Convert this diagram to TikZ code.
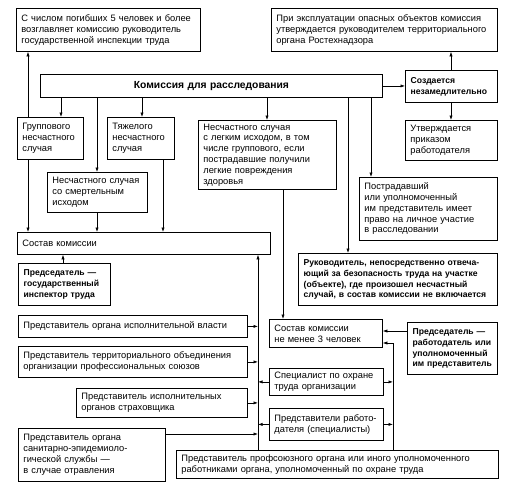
\documentclass[tikz,border=0pt]{standalone}
\usepackage{fontspec}
\setmainfont{Liberation Sans}
\usetikzlibrary{arrows.meta,calc}
\newcommand\myfs{\fontsize{9.3}{10.8}\selectfont}
\newcommand\mybf{\bfseries\fontsize{8.6}{10.8}\selectfont}
\newcommand\mybx[7][box]{%
  \pgfmathsetmacro\bw{#5-#3}\pgfmathsetmacro\bh{#6-#4}\pgfmathsetmacro\tw{#5-#3-10}%
  \node[#1, minimum width=\bw pt, minimum height=\bh pt, text width=\tw pt] (#2) at (#3,#4) {#7};}
\begin{document}
\begin{tikzpicture}[x=1pt,y=-1pt,
  box/.style={draw, line width=0.8pt, inner xsep=5pt, inner ysep=0pt, align=left, anchor=north west, font=\myfs},
  bbox/.style={box, line width=1.3pt, font=\mybf},
  mbox/.style={box, line width=0.9pt, align=center, font=\bfseries\fontsize{10.3}{11}\selectfont},
  arr/.style={-{Latex[length=4.5pt,width=3.2pt]}, line width=0.6pt},
  ln/.style={line width=0.6pt}]
\useasboundingbox (0,0) rectangle (510,488);

\mybx{tl}{16}{8}{200}{51}{С числом погибших 5 человек и более\\возглавляет комиссию руководитель\\государственной инспекции труда}
\mybx{tr}{271}{8}{497}{51}{При эксплуатации опасных объектов комиссия\\утверждается руководителем территориального\\органа Ростехнадзора}
\mybx[mbox]{main}{40}{74}{382}{97}{Комиссия для расследования}
\mybx[bbox]{cr}{405}{70}{497}{102}{Создается\\незамедлительно}
\mybx{ut}{405}{120}{497}{160}{Утверждается\\приказом\\работодателя}
\mybx{grp}{17}{117}{83}{159}{Группового\\несчастного\\случая}
\mybx{tyazh}{107}{117}{174}{159}{Тяжелого\\несчастного\\случая}
\mybx{smert}{47}{172}{147}{212}{Несчастного случая\\со смертельным\\исходом}
\mybx{legk}{198}{120}{336}{189}{Несчастного случая\\с легким исходом, в том\\числе группового, если\\пострадавшие получили\\легкие повреждения\\здоровья}
\mybx{postr}{359}{177}{497}{240}{Пострадавший\\или уполномоченный\\им представитель имеет\\право на личное участие\\в расследовании}
\mybx{sostav}{17}{232}{270}{254}{Состав комиссии}
\mybx[bbox]{ruk}{298}{253}{497}{305}{Руководитель, непосредственно отвеча-\\ющий за безопасность труда на участке\\(объекте), где произошел несчастный\\случай, в состав комиссии не включается}
\mybx[bbox]{pgi}{18}{263}{110}{305}{Председатель —\\государственный\\инспектор труда}
\mybx{isp}{18}{315}{247}{337}{Представитель органа исполнительной власти}
\mybx{terr}{18}{346}{247}{377}{Представитель территориального объединения\\организации профессиональных союзов}
\mybx{strah}{76}{388}{247}{417}{Представитель исполнительных\\органов страховщика}
\mybx{san}{18}{428}{165}{481}{Представитель органа\\санитарно-эпидемиоло-\\гической службы —\\в случае отравления}
\mybx{s3}{269}{319}{382}{347}{Состав комиссии\\не менее 3 человек}
\mybx[bbox]{prr}{407}{322}{497}{374}{Председатель —\\работодатель или\\уполномоченный\\им представитель}
\mybx{spec}{269}{368}{383}{395}{Специалист по охране\\труда организации}
\mybx{predr}{269}{408}{383}{440}{Представители работо-\\дателя (специалисты)}
\mybx{prof}{176}{450}{498}{478}{Представитель профсоюзного органа или иного уполномоченного\\работниками органа, уполномоченный по охране труда}

\coordinate (L) at (258,254);
\coordinate (R) at (393,343);

% top connectors
\draw[arr] (grp.north -| 28,0) -- (tl.south -| 28,0);
\draw[arr] (main.south -| 61,0) -- (grp.north -| 61,0);
\draw[arr] (main.south -| 97,0) -- (smert.north -| 97,0);
\draw[arr] (main.south -| 142,0) -- (tyazh.north -| 142,0);
\draw[arr] (main.south -| 267,0) -- (legk.north -| 267,0);
\draw[arr] (main.south -| 348,0) -- (ruk.north -| 348,0);
\draw[arr] (main.south -| 371,0) -- (postr.north -| 371,0);
\draw[arr] (main.east) -- (cr.west |- main.east);
\draw[arr] (cr.north -| 451,0) -- (tr.south -| 451,0);
\draw[arr] (cr.south -| 451,0) -- (ut.north -| 451,0);

% into Состав комиссии
\draw[arr] (grp.south -| 28,0) -- (sostav.north -| 28,0);
\draw[arr] (smert.south -| 97,0) -- (sostav.north -| 97,0);
\draw[arr] (tyazh.south -| 163,0) -- (sostav.north -| 163,0);
\draw[arr] (pgi.north -| 63,0) -- (sostav.south -| 63,0);
\draw[arr] (prof.north -| L) -- (sostav.south -| L);
\draw[arr] (legk.south -| 283,0) -- (s3.north -| 283,0);

% left collectors
\draw[arr] (isp.east) -- (isp.east -| L);
\draw[arr] (terr.east) -- (terr.east -| L);
\draw[arr] (strah.east) -- (strah.east -| L);
\draw[arr] (san.east |- 0,434) -- (L |- 0,434);
\draw[arr] (spec.west) -- (spec.west -| L);
\draw[arr] (predr.west) -- (predr.west -| L);

% right collectors
\draw[arr] (prof.north -| R) |- (s3.east |- R);
\draw[arr] (spec.east) -- (spec.east -| R);
\draw[arr] (predr.east) -- (predr.east -| R);
\draw[arr] (prr.west |- 0,331) -- (s3.east |- 0,331);
\end{tikzpicture}
\end{document}
